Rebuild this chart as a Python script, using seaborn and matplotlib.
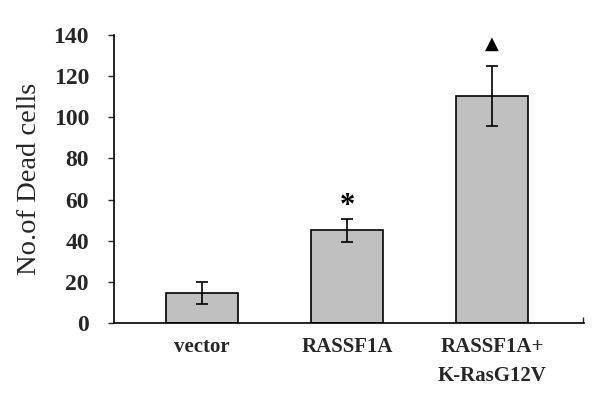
import numpy as np
import matplotlib
matplotlib.use("Agg")
import matplotlib.pyplot as plt
import seaborn as sns

# Dados
grupos = ["vector", "RASSF1A", "RASSF1A+\nK-RasG12V"]
medias = [14.5, 45, 110.5]
erros = [5.5, 5.5, 14.5]
marcas = ["", "*", "▲"]
y_ticks = [0, 20, 40, 60, 80, 100, 120, 140]

sns.set_theme(style="white")
plt.rcParams["font.family"] = ["Liberation Serif", "DejaVu Sans"]

fig = plt.figure(figsize=(6, 4), dpi=100)
ax = fig.add_axes([0.19, 0.1925, 0.783, 0.72])

sns.barplot(x=grupos, y=medias, color="#c0c0c0", edgecolor="black",
            linewidth=1.2, width=0.5, saturation=1, ax=ax)
ax.errorbar(range(len(grupos)), medias, yerr=erros, fmt="none",
            ecolor="black", elinewidth=1.2, capsize=4.5, capthick=1.2)

# Marcadores de significância acima das barras de erro
for i, (m, e, s) in enumerate(zip(medias, erros, marcas)):
    if not s:
        continue
    if s == "*":
        ax.text(i, m + e + 6, s, ha="center", va="center", fontsize=22,
                fontweight="bold", color="black")
    else:
        ax.text(i, m + e + 10.5, s, ha="center", va="center", fontsize=13,
                color="black", family=["DejaVu Sans"])

xlim = (-0.607, 2.634)
ax.set_ylim(0, 140)
ax.set_xlim(*xlim)
ax.set_yticks(y_ticks)
ax.set_yticklabels([str(v) for v in y_ticks], fontsize=17, fontweight="bold")
ax.set_xticks(range(len(grupos)))
ax.set_xticklabels(grupos, fontsize=15, fontweight="bold", linespacing=1.6)
# pequeno traço no fim do eixo x
ax.set_xticks([xlim[1] - 0.004], minor=True)
ax.tick_params(axis="x", which="minor", direction="in", length=4, width=1,
               bottom=True)
ax.tick_params(axis="y", direction="out", length=4, width=1, pad=14, left=True)
ax.tick_params(axis="x", which="major", length=0, pad=10)
ax.set_xlabel("")
ax.set_ylabel("No.of Dead cells", fontsize=20.5, labelpad=8)

for lado in ["top", "right"]:
    ax.spines[lado].set_visible(False)
for lado in ["left", "bottom"]:
    ax.spines[lado].set_color("black")
    ax.spines[lado].set_linewidth(1.2)

fig.savefig("out.png", dpi=100, facecolor="white")
